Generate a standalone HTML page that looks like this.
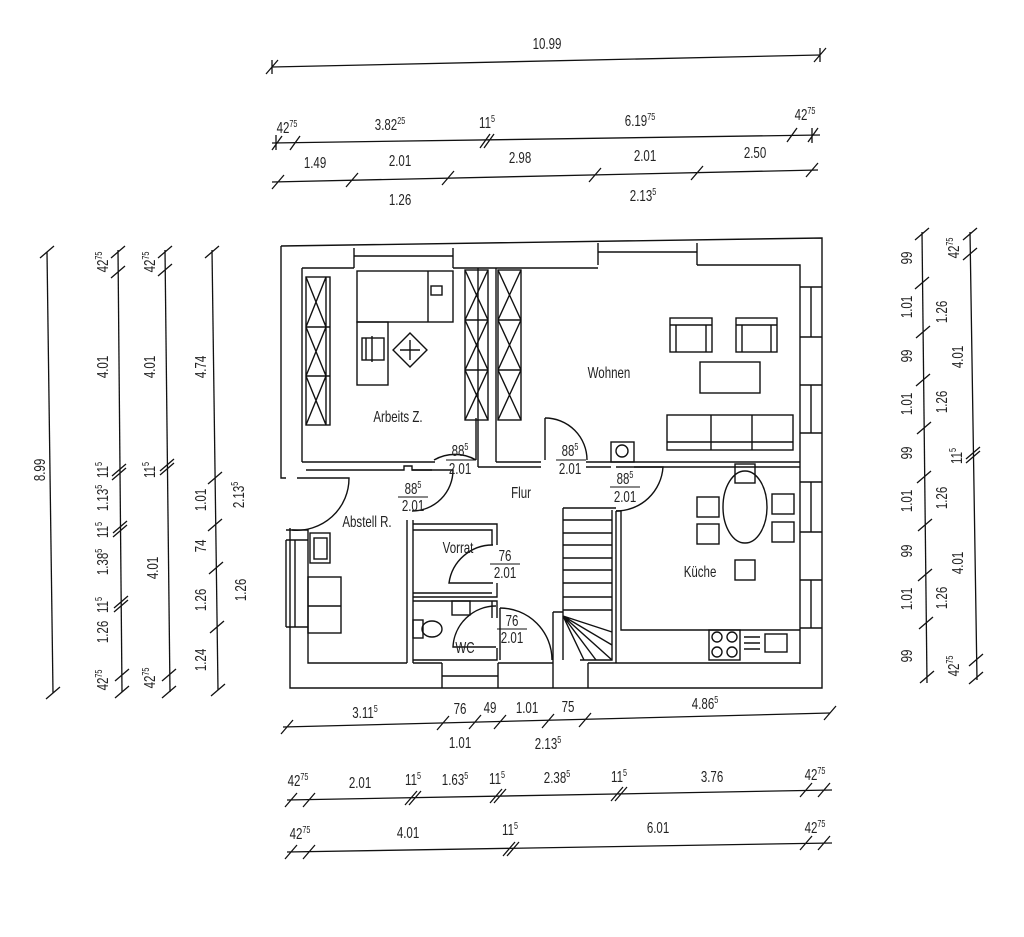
<!DOCTYPE html>
<html><head><meta charset="utf-8"><style>
html,body{margin:0;padding:0;background:#fff;}
svg{display:block}
text{font-family:"Liberation Sans Narrow","Liberation Sans",sans-serif;font-size:16px;fill:#222;text-anchor:middle;transform-box:fill-box;transform-origin:center;transform:scaleX(0.72)}
.s{font-size:10px}
</style></head><body>
<svg width="1024" height="937" viewBox="0 0 1024 937" xmlns="http://www.w3.org/2000/svg">
<g stroke="#111" stroke-width="1.3" fill="none">
<line x1="272" y1="67" x2="820" y2="55"/>
<path d="M266 74 l12 -14 M814 62 l12 -14 M272 60v14 M820 48v14"/>
<line x1="272" y1="143" x2="820" y2="135"/>
<path d="M272 150l10-14 M290 150l10-14 M480 148l10-14 M484 148l10-14 M787 142l10-14 M808 142l10-14 M276 135v15 M812 128v15"/>
<line x1="272" y1="182" x2="818" y2="170"/>
<path d="M272 189l12-14 M346 187l12-14 M442 185l12-14 M589 182l12-14 M691 180l12-14 M806 177l12-14"/>
<line x1="283" y1="727" x2="830" y2="713"/>
<path d="M281 734l12-14 M437 730l12-14 M469 729l12-14 M494 729l12-14 M542 728l12-14 M579 727l12-14 M824 720l12-14"/>
<line x1="287" y1="800" x2="832" y2="790"/>
<path d="M285 807l12-14 M303 807l12-14 M405 805l12-14 M409 805l12-14 M490 803l12-14 M494 803l12-14 M611 801l12-14 M615 801l12-14 M800 797l12-14 M818 797l12-14"/>
<line x1="287" y1="852" x2="832" y2="843"/>
<path d="M285 859l12-14 M303 859l12-14 M503 856l12-14 M507 856l12-14 M800 850l12-14 M818 850l12-14"/>
<line x1="47" y1="252" x2="53" y2="693"/>
<path d="M40 258l14-12 M46 699l14-12"/>
<line x1="118" y1="250" x2="122" y2="692"/>
<path d="M111 258l14-12 M111 278l14-12 M112 476l14-12 M112 480l14-12 M113 533l14-12 M113 537l14-12 M114 608l14-12 M114 612l14-12 M115 681l14-12 M115 698l14-12"/>
<line x1="165" y1="250" x2="170" y2="692"/>
<path d="M158 258l14-12 M158 276l14-12 M160 471l14-12 M160 475l14-12 M162 681l14-12 M162 698l14-12"/>
<line x1="212" y1="250" x2="218" y2="690"/>
<path d="M205 258l14-12 M208 484l14-12 M208 531l14-12 M209 574l14-12 M210 633l14-12 M211 696l14-12"/>
<line x1="922" y1="232" x2="927" y2="683"/>
<path d="M915 240l14-12 M915 289l14-12 M916 338l14-12 M916 386l14-12 M917 434l14-12 M917 483l14-12 M918 531l14-12 M918 581l14-12 M919 629l14-12 M920 683l14-12"/>
<line x1="970" y1="232" x2="977" y2="680"/>
<path d="M963 240l14-12 M963 260l14-12 M966 459l14-12 M966 463l14-12 M969 666l14-12 M969 684l14-12"/>
</g>

<g stroke="#111" stroke-width="1.4" fill="none">
<path d="M281 246 L822 238 L822 688 L290 688 L290 528 M286 478 L281 478 L281 246"/>
<path d="M302 268 H354 M453 268 H598 M697 265 H800 V664 M302 268 V462 M286 530 H308 V663 H407 M413 663 H442 M498 663 H553 M588 663 H800"/>
<path d="M354 248 V268 M453 248 V268 M354 256 H453 M598 243 V265 M697 243 V265 M598 252 H697"/>
<path d="M800 287 H822 M800 337 H822 M811 287 V337 M800 385 H822 M800 433 H822 M811 385 V433 M800 482 H822 M800 532 H822 M811 482 V532 M800 580 H822 M800 628 H822 M811 580 V628"/>
<path d="M286 540 V627 M295 540 V627 M286 627 H308 M286 540 H308"/>
<path d="M442 663 V688 M498 663 V688 M442 676 H498 M553 663 V688 M588 663 V688"/>
<path d="M302 462 H435 M306 470 H404 V466 H412 V470 H432"/>
<path d="M478 268 V467 M496 268 V462 M478 467 H541 M496 462 H541 M586 462 H800 M586 467 H611 M634 467 H800"/>
<path d="M407 520 V663 M413 520 V663"/>
<path d="M413 524 H497 V545 M413 530 H492 V545 M413 597 H497 V583 M413 593 H492"/>
<path d="M413 601 H497 V618 M413 660 H497 V648 M492 601 V618"/>
<path d="M563 508 H616 M563 508 V612 M563 520 H612 M563 533 H612 M563 545 H612 M563 558 H612 M563 570 H612 M563 583 H612 M563 597 H612 M563 610 H612 M553 612 H563 V660 M553 612 V663 M612 510 V660 H580"/>
<path d="M563 616 L612 660 M563 616 L596 660 M563 616 L584 660 M563 616 L612 645 M563 616 L612 632"/>
<path d="M616 511 V663 M621 511 V630 H800 M621 511 H616"/>
<path d="M476 460 A42 42 0 0 0 434 460"/><path d="M476 418 V460"/>
<path d="M545 418 A42 42 0 0 1 587 460"/><path d="M545 418 V460"/>
<path d="M616 467 H663 A47 47 0 0 1 616 511"/>
<path d="M412 470 H453 A41 41 0 0 1 412 511"/>
<path d="M297 478 H349 A52 52 0 0 1 292 530"/>
<path d="M493 583 H449 A44 44 0 0 1 493 545"/>
<path d="M496 647 H453 A43 43 0 0 1 496 606"/>
<path d="M500 608 A52 52 0 0 1 552 660"/><path d="M500 608 V660"/>
<rect x="611" y="442" width="23" height="20"/><circle cx="622" cy="451" r="6"/>
<rect x="306" y="277" width="24" height="148"/>
<path d="M306 327 H330 M306 376 H330 M306 277 L326 327 M326 277 L306 327 M306 327 L326 376 M326 327 L306 376 M306 376 L326 425 M326 376 L306 425 M326 277 V425"/>
<rect x="357" y="271" width="96" height="51"/><path d="M428 271 V322"/><rect x="431" y="286" width="11" height="9"/>
<rect x="357" y="322" width="31" height="63"/>
<rect x="362" y="338" width="22" height="22"/><path d="M366 338 V360 M372 336 V362"/>
<rect x="398" y="338" width="24" height="24" transform="rotate(45 410 350)"/>
<path d="M400 350 L420 350 M410 340 L410 360"/>
<rect x="465" y="270" width="23" height="150"/>
<path d="M465 320 H488 M465 370 H488 M465 270 L488 320 M488 270 L465 320 M465 320 L488 370 M488 320 L465 370 M465 370 L488 420 M488 370 L465 420"/>
<rect x="498" y="270" width="23" height="150"/>
<path d="M498 320 H521 M498 370 H521 M498 270 L521 320 M521 270 L498 320 M498 320 L521 370 M521 320 L498 370 M498 370 L521 420 M521 370 L498 420"/>
<rect x="670" y="318" width="42" height="34"/><path d="M670 325 H712 M676 325 V352 M706 325 V352"/>
<rect x="736" y="318" width="41" height="34"/><path d="M736 325 H777 M742 325 V352 M771 325 V352"/>
<rect x="700" y="362" width="60" height="31"/>
<rect x="667" y="415" width="126" height="35"/><path d="M667 442 H793 M711 415 V450 M752 415 V450"/>
<ellipse cx="745" cy="507" rx="22" ry="36"/>
<rect x="735" y="464" width="20" height="19"/><rect x="735" y="560" width="20" height="20"/>
<rect x="697" y="497" width="22" height="20"/><rect x="697" y="524" width="22" height="20"/>
<rect x="772" y="494" width="22" height="20"/><rect x="772" y="522" width="22" height="20"/>
<rect x="709" y="630" width="31" height="30"/>
<circle cx="717" cy="637" r="5"/><circle cx="732" cy="637" r="5"/><circle cx="717" cy="652" r="5"/><circle cx="732" cy="652" r="5"/>
<path d="M744 637 H760 M744 643 H760 M744 649 H760"/><rect x="765" y="634" width="22" height="18"/>
<rect x="310" y="533" width="20" height="30"/><rect x="314" y="538" width="13" height="21"/>
<rect x="308" y="577" width="33" height="56"/><path d="M308 606 H341"/>
<rect x="452" y="601" width="18" height="14"/>
<rect x="413" y="620" width="10" height="18"/><ellipse cx="432" cy="629" rx="10" ry="8"/>
</g>

<text x="547" y="49">10.99</text>
<text x="287" y="133">42<tspan class="s" dy="-6">75</tspan></text>
<text x="390" y="130">3.82<tspan class="s" dy="-6">25</tspan></text>
<text x="487" y="128">11<tspan class="s" dy="-6">5</tspan></text>
<text x="640" y="126">6.19<tspan class="s" dy="-6">75</tspan></text>
<text x="805" y="120">42<tspan class="s" dy="-6">75</tspan></text>
<text x="315" y="168">1.49</text><text x="400" y="166">2.01</text><text x="520" y="163">2.98</text>
<text x="645" y="161">2.01</text><text x="755" y="158">2.50</text>
<text x="400" y="205">1.26</text><text x="643" y="201">2.13<tspan class="s" dy="-6">5</tspan></text>

<text x="365" y="718">3.11<tspan class="s" dy="-6">5</tspan></text>
<text x="460" y="714">76</text><text x="490" y="713">49</text><text x="527" y="713">1.01</text>
<text x="568" y="712">75</text><text x="705" y="709">4.86<tspan class="s" dy="-6">5</tspan></text>
<text x="460" y="748">1.01</text><text x="548" y="749">2.13<tspan class="s" dy="-6">5</tspan></text>
<text x="298" y="786">42<tspan class="s" dy="-6">75</tspan></text>
<text x="360" y="788">2.01</text>
<text x="413" y="785">11<tspan class="s" dy="-6">5</tspan></text>
<text x="455" y="785">1.63<tspan class="s" dy="-6">5</tspan></text>
<text x="497" y="784">11<tspan class="s" dy="-6">5</tspan></text>
<text x="557" y="783">2.38<tspan class="s" dy="-6">5</tspan></text>
<text x="619" y="782">11<tspan class="s" dy="-6">5</tspan></text>
<text x="712" y="782">3.76</text>
<text x="815" y="780">42<tspan class="s" dy="-6">75</tspan></text>
<text x="300" y="839">42<tspan class="s" dy="-6">75</tspan></text>
<text x="408" y="838">4.01</text>
<text x="510" y="835">11<tspan class="s" dy="-6">5</tspan></text>
<text x="658" y="833">6.01</text>
<text x="815" y="833">42<tspan class="s" dy="-6">75</tspan></text>

<g transform="translate(45,470) rotate(-90)"><text>8.99</text></g>
<g transform="translate(108,262) rotate(-90)"><text>42<tspan class="s" dy="-6">75</tspan></text></g>
<g transform="translate(108,367) rotate(-90)"><text>4.01</text></g>
<g transform="translate(108,470) rotate(-90)"><text>11<tspan class="s" dy="-6">5</tspan></text></g>
<g transform="translate(108,498) rotate(-90)"><text>1.13<tspan class="s" dy="-6">5</tspan></text></g>
<g transform="translate(108,530) rotate(-90)"><text>11<tspan class="s" dy="-6">5</tspan></text></g>
<g transform="translate(108,562) rotate(-90)"><text>1.38<tspan class="s" dy="-6">5</tspan></text></g>
<g transform="translate(108,605) rotate(-90)"><text>11<tspan class="s" dy="-6">5</tspan></text></g>
<g transform="translate(108,632) rotate(-90)"><text>1.26</text></g>
<g transform="translate(108,680) rotate(-90)"><text>42<tspan class="s" dy="-6">75</tspan></text></g>
<g transform="translate(155,262) rotate(-90)"><text>42<tspan class="s" dy="-6">75</tspan></text></g>
<g transform="translate(155,367) rotate(-90)"><text>4.01</text></g>
<g transform="translate(155,470) rotate(-90)"><text>11<tspan class="s" dy="-6">5</tspan></text></g>
<g transform="translate(158,568) rotate(-90)"><text>4.01</text></g>
<g transform="translate(155,678) rotate(-90)"><text>42<tspan class="s" dy="-6">75</tspan></text></g>
<g transform="translate(206,367) rotate(-90)"><text>4.74</text></g>
<g transform="translate(206,500) rotate(-90)"><text>1.01</text></g>
<g transform="translate(206,546) rotate(-90)"><text>74</text></g>
<g transform="translate(206,600) rotate(-90)"><text>1.26</text></g>
<g transform="translate(206,660) rotate(-90)"><text>1.24</text></g>
<g transform="translate(244,495) rotate(-90)"><text>2.13<tspan class="s" dy="-6">5</tspan></text></g>
<g transform="translate(246,590) rotate(-90)"><text>1.26</text></g>
<g transform="translate(912,258) rotate(-90)"><text>99</text></g>
<g transform="translate(912,307) rotate(-90)"><text>1.01</text></g>
<g transform="translate(912,356) rotate(-90)"><text>99</text></g>
<g transform="translate(912,404) rotate(-90)"><text>1.01</text></g>
<g transform="translate(912,453) rotate(-90)"><text>99</text></g>
<g transform="translate(912,501) rotate(-90)"><text>1.01</text></g>
<g transform="translate(912,551) rotate(-90)"><text>99</text></g>
<g transform="translate(912,599) rotate(-90)"><text>1.01</text></g>
<g transform="translate(912,656) rotate(-90)"><text>99</text></g>
<g transform="translate(959,248) rotate(-90)"><text>42<tspan class="s" dy="-6">75</tspan></text></g>
<g transform="translate(947,312) rotate(-90)"><text>1.26</text></g>
<g transform="translate(963,357) rotate(-90)"><text>4.01</text></g>
<g transform="translate(947,402) rotate(-90)"><text>1.26</text></g>
<g transform="translate(962,456) rotate(-90)"><text>11<tspan class="s" dy="-6">5</tspan></text></g>
<g transform="translate(947,498) rotate(-90)"><text>1.26</text></g>
<g transform="translate(963,563) rotate(-90)"><text>4.01</text></g>
<g transform="translate(947,598) rotate(-90)"><text>1.26</text></g>
<g transform="translate(959,666) rotate(-90)"><text>42<tspan class="s" dy="-6">75</tspan></text></g>

<text x="398" y="422">Arbeits Z.</text>
<text x="609" y="378">Wohnen</text>
<text x="521" y="498">Flur</text>
<text x="367" y="527">Abstell R.</text>
<text x="458" y="553">Vorrat</text>
<text x="700" y="577">Küche</text>
<text x="465" y="653">WC</text>
<text x="460" y="456">88<tspan class="s" dy="-6">5</tspan></text><line x1="446" y1="460" x2="476" y2="460" stroke="#111"/><text x="460" y="474">2.01</text>
<text x="570" y="456">88<tspan class="s" dy="-6">5</tspan></text><line x1="556" y1="460" x2="586" y2="460" stroke="#111"/><text x="570" y="474">2.01</text>
<text x="413" y="494">88<tspan class="s" dy="-6">5</tspan></text><line x1="398" y1="497" x2="428" y2="497" stroke="#111"/><text x="413" y="511">2.01</text>
<text x="625" y="484">88<tspan class="s" dy="-6">5</tspan></text><line x1="610" y1="487" x2="640" y2="487" stroke="#111"/><text x="625" y="502">2.01</text>
<text x="505" y="561">76</text><line x1="490" y1="564" x2="520" y2="564" stroke="#111"/><text x="505" y="578">2.01</text>
<text x="512" y="626">76</text><line x1="497" y1="629" x2="527" y2="629" stroke="#111"/><text x="512" y="643">2.01</text>
</svg>
</body></html>
